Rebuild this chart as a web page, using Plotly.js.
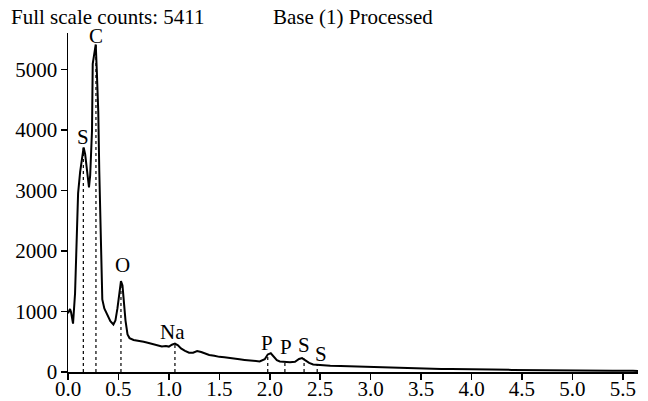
<!DOCTYPE html>
<html>
<head>
<meta charset="utf-8">
<script src="https://cdn.plot.ly/plotly-3.0.1.min.js"></script>
<style>html,body{margin:0;padding:0;background:#fff;}#chart{width:648px;height:401px;}</style>
</head>
<body>
<div id="chart"></div>
<script>
// Spectrum: energy (keV) and counts
const energy = [0.00,0.01,0.02,0.03,0.04,0.05,0.07,0.085,0.10,0.12,0.135,0.155,0.17,0.19,0.208,0.22,0.238,0.245,0.26,0.275,0.285,0.30,0.31,0.32,0.33,0.34,0.36,0.38,0.40,0.42,0.45,0.47,0.49,0.51,0.525,0.54,0.55,0.57,0.59,0.61,0.65,0.70,0.75,0.80,0.85,0.90,0.93,0.97,1.00,1.03,1.06,1.09,1.12,1.16,1.20,1.24,1.28,1.32,1.36,1.40,1.45,1.50,1.55,1.60,1.65,1.70,1.75,1.80,1.85,1.90,1.95,1.98,2.01,2.04,2.07,2.10,2.15,2.20,2.25,2.29,2.32,2.35,2.39,2.43,2.50,2.60,2.70,2.80,2.90,3.00,3.10,3.20,3.30,3.40,3.50,3.60,3.70,3.80,3.90,4.00,4.20,4.40,4.60,4.80,5.00,5.20,5.40,5.60,5.65];
const counts = [970,1000,1040,990,880,800,1300,2400,2950,3300,3500,3710,3600,3300,3050,3250,3990,5090,5250,5411,5000,4300,3330,2400,1600,1200,1050,970,900,840,785,850,1050,1350,1500,1430,1200,850,620,560,530,520,500,480,460,430,420,430,420,450,470,440,390,350,320,320,345,330,300,280,270,250,245,230,225,210,200,195,185,175,210,290,310,260,195,175,165,160,170,215,230,200,150,125,115,105,100,95,85,80,75,65,60,60,55,55,50,50,45,45,40,35,30,30,25,25,20,20,18];

// Element marker lines and labels
const markerE = [0.152,0.277,0.525,1.06,1.98,2.15,2.34,2.47];
const markerTop = [3700,5411,1500,470,290,165,225,120];
const labelText = ["S","C","O","Na","P","P","S","S"];
const labelE = [0.15,0.28,0.545,1.04,1.97,2.16,2.34,2.51];
const labelY = [3880,5545,1766,665,483,408,446,297];

const xTicks = [0,0.5,1,1.5,2,2.5,3,3.5,4,4.5,5,5.5];
const yTicks = [0,1000,2000,3000,4000,5000];

const font = {family: "Liberation Serif, Times New Roman, serif", size: 21, color: "#000"};

const traces = [];
markerE.forEach((e, i) => {
  traces.push({x:[e,e], y:[0,markerTop[i]], mode:"lines", line:{color:"#000", width:1.2, dash:"dot"}, hoverinfo:"skip", showlegend:false});
});
traces.push({x: energy, y: counts, mode:"lines", line:{color:"#000", width:2}, showlegend:false});

const annotations = labelText.map((t, i) => ({
  x: labelE[i], y: labelY[i], xref:"x", yref:"y", text:t, showarrow:false, borderpad:0,
  font: font, xanchor:"center", yanchor:"middle"
}));
annotations.push({x:-0.1018, y:1.047, xref:"paper", yref:"paper", text:"Full scale counts: 5411", showarrow:false, borderpad:0, font:font, xanchor:"left", yanchor:"middle"});
annotations.push({x:0.3579, y:1.047, xref:"paper", yref:"paper", text:"Base (1) Processed", showarrow:false, borderpad:0, font:font, xanchor:"left", yanchor:"middle"});

const layout = {
  width:648, height:401,
  margin:{l:68, r:10, t:33, b:29},
  paper_bgcolor:"#fff", plot_bgcolor:"#fff",
  font: font,
  showlegend:false,
  xaxis:{range:[0,5.65], tickvals:xTicks, ticktext:xTicks.map(v=>v.toFixed(1)), ticks:"outside", ticklen:6, tickwidth:1.5, tickcolor:"#000",
         ticklabelstandoff:-9,
         showline:true, linecolor:"#000", linewidth:1.5, showgrid:false, zeroline:false, tickfont:font},
  yaxis:{range:[0,5600], tickvals:yTicks, ticks:"outside", ticklen:6, tickwidth:1.5, tickcolor:"#000",
         ticklabelstandoff:-1,
         showline:true, linecolor:"#000", linewidth:1.5, showgrid:false, zeroline:false, tickfont:font},
  annotations: annotations
};

Plotly.newPlot("chart", traces, layout, {staticPlot:true, displayModeBar:false});
</script>
</body>
</html>
